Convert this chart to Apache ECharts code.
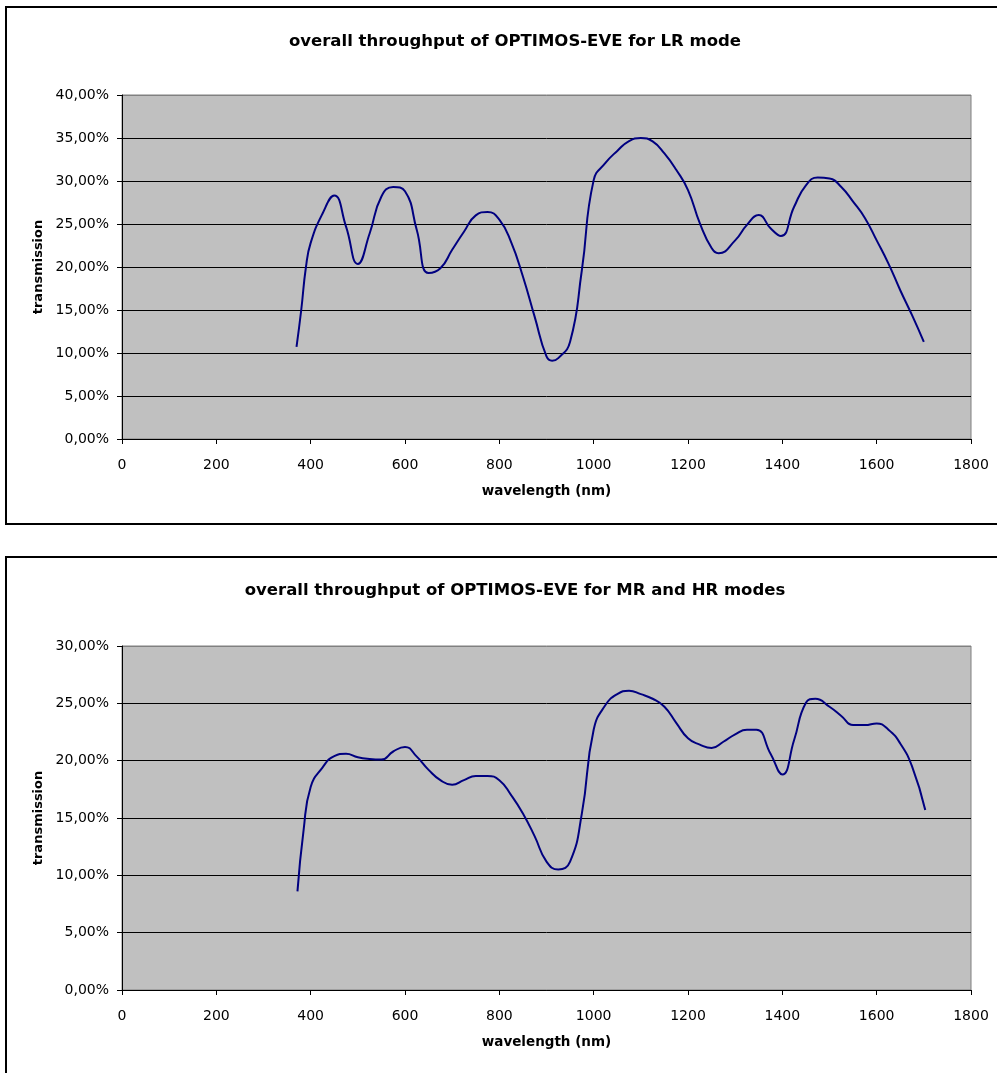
<!DOCTYPE html>
<html>
<head>
<meta charset="utf-8">
<script src="https://cdn.jsdelivr.net/npm/echarts@6/dist/echarts.min.js"></script>
<style>
html, body { margin: 0; padding: 0; background: #fff; }
#main { width: 997px; height: 1073px; }
</style>
</head>
<body>
<div id="main"></div>
<script>
// LR mode (top chart), wavelength in nm, transmission in %
let lrWave = [370, 380, 390, 400, 425, 450, 475, 500, 525, 550, 575, 600, 625, 650, 675, 700, 725, 750, 775, 800, 825, 850, 875, 900, 912, 925, 950, 975, 1000,
	1025, 1050, 1075, 1100, 1125, 1150, 1175, 1200, 1225, 1250, 1265, 1300, 1325, 1350, 1375, 1397, 1425, 1450, 1475, 1500, 1525, 1550, 1575, 1600, 1625, 1650, 1675, 1700];
let lrVal = [10.7, 15.0, 20.0, 22.8, 26.2, 28.3, 24.7, 20.35, 23.9, 28.2, 29.3, 28.8, 24.3, 19.3, 19.85, 22.0, 24.1, 26.0, 26.4, 25.5, 22.9, 18.9, 14.2, 9.6, 9.1, 9.4, 11.3, 19.65, 30.1,
	32.1, 33.5, 34.65, 35.0, 34.6, 33.2, 31.3, 28.95, 25.1, 22.2, 21.6, 23.1, 24.9, 26.05, 24.5, 23.6, 27.0, 29.5, 30.4, 30.3, 29.3, 27.6, 25.7, 23.1, 20.4, 17.3, 14.4, 11.3];

// MR and HR modes (bottom chart)
let mrWave = [372, 385, 400, 425, 450, 475, 500, 525, 550, 575, 600, 625, 650, 675, 700, 725, 750, 775, 800, 825, 850, 875, 900, 925, 950, 975, 1000,
	1025, 1050, 1075, 1100, 1125, 1150, 1175, 1200, 1225, 1250, 1275, 1300, 1325, 1345, 1375, 1400, 1425, 1450, 1470, 1500, 1525, 1550, 1575, 1600, 1625, 1650, 1675, 1703];
let mrVal = [8.6, 13.95, 17.7, 19.4, 20.4, 20.6, 20.3, 20.15, 20.1, 20.8, 21.2, 20.35, 19.2, 18.3, 17.9, 18.3, 18.66, 18.66, 18.3, 17.0, 15.4, 13.4, 11.2, 10.5, 11.2, 15.4, 22.7,
	24.85, 25.8, 26.1, 25.8, 25.4, 24.7, 23.3, 21.95, 21.4, 21.1, 21.65, 22.3, 22.7, 22.7, 20.6, 18.8, 21.8, 25.05, 25.4, 24.7, 23.9, 23.1, 23.1, 23.25, 22.7, 21.5, 19.5, 15.7];

let titles = ['overall throughput of OPTIMOS-EVE for LR mode', 'overall throughput of OPTIMOS-EVE for MR and HR modes'];
let yMax = [40, 30];

let chartDom = document.getElementById('main');
let myChart = echarts.init(chartDom);

function pairs(xs, ys) {
	let out = [];
	for (let i = 0; i < xs.length; i++) {
		out.push([xs[i], ys[i]]);
	}
	return out;
}

// top gridline sits on the plot border, so it stays grey
function splitColors(max) {
	let cols = [];
	for (let v = 0; v <= max; v += 5) {
		cols.push(v === max ? '#808080' : '#000');
	}
	return cols;
}

let font = 'DejaVu Sans';

function xAxisFor(idx) {
	return {
		type: 'value',
		gridIndex: idx,
		min: 0,
		max: 1800,
		interval: 200,
		name: 'wavelength (nm)',
		nameLocation: 'middle',
		nameGap: 45,
		nameTextStyle: { fontFamily: font, fontWeight: 'bold', fontSize: 13.5, color: '#000' },
		axisLine: { show: true, lineStyle: { color: '#000', width: 1 } },
		axisTick: { show: true, inside: false, length: 5, lineStyle: { color: '#000' } },
		axisLabel: { fontFamily: font, fontSize: 14, color: '#000', margin: 19, formatter: (v) => String(v) },
		splitLine: { show: false }
	};
}

function yAxisFor(idx) {
	return {
		type: 'value',
		gridIndex: idx,
		min: 0,
		max: yMax[idx],
		interval: 5,
		name: 'transmission',
		nameLocation: 'middle',
		nameGap: 76,
		nameTextStyle: { fontFamily: font, fontWeight: 'bold', fontSize: 13, color: '#000' },
		axisLine: { show: true, lineStyle: { color: '#000', width: 1 } },
		axisTick: { show: true, inside: false, length: 5, lineStyle: { color: '#000' } },
		axisLabel: {
			fontFamily: font,
			fontSize: 14,
			color: '#000',
			margin: 13,
			formatter: (v) => v.toFixed(2).replace('.', ',') + '%'
		},
		splitLine: { show: true, lineStyle: { color: splitColors(yMax[idx]), width: 1 } }
	};
}

let option = {
	animation: false,
	title: [
		{
			text: titles[0], left: 510, top: 28, textAlign: 'center',
			textStyle: { fontFamily: font, fontWeight: 'bold', fontSize: 16.5, color: '#000' }
		},
		{
			text: titles[1], left: 510, top: 577, textAlign: 'center',
			textStyle: { fontFamily: font, fontWeight: 'bold', fontSize: 16.5, color: '#000' }
		}
	],
	grid: [
		{ left: 122, top: 95, width: 849, height: 344, show: true, backgroundColor: '#c0c0c0', borderColor: '#808080', borderWidth: 1 },
		{ left: 122, top: 646, width: 849, height: 344, show: true, backgroundColor: '#c0c0c0', borderColor: '#808080', borderWidth: 1 }
	],
	xAxis: [xAxisFor(0), xAxisFor(1)],
	yAxis: [yAxisFor(0), yAxisFor(1)],
	graphic: [
		{ type: 'rect', shape: { x: 6, y: 7, width: 1000, height: 517 }, style: { fill: 'none', stroke: '#000', lineWidth: 2 }, z: -1 },
		{ type: 'rect', shape: { x: 6, y: 557, width: 1000, height: 530 }, style: { fill: 'none', stroke: '#000', lineWidth: 2 }, z: -1 }
	],
	series: [
		{
			type: 'line', xAxisIndex: 0, yAxisIndex: 0,
			data: pairs(lrWave, lrVal),
			smooth: true, showSymbol: false,
			lineStyle: { color: '#000080', width: 2 }
		},
		{
			type: 'line', xAxisIndex: 1, yAxisIndex: 1,
			data: pairs(mrWave, mrVal),
			smooth: true, showSymbol: false,
			lineStyle: { color: '#000080', width: 2 }
		}
	]
};

myChart.setOption(option);
</script>
</body>
</html>
